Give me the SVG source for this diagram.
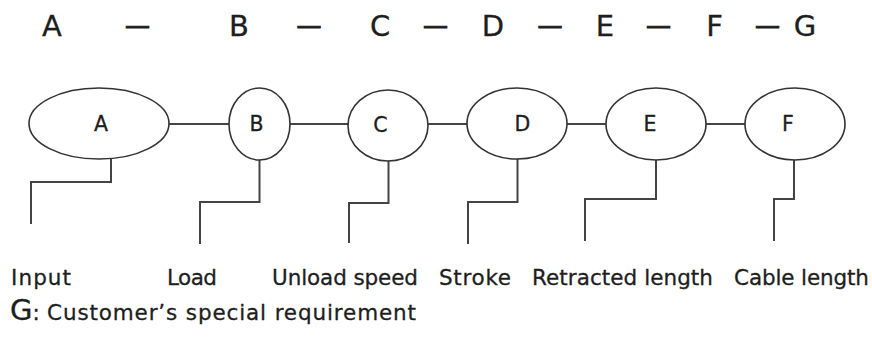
<svg xmlns="http://www.w3.org/2000/svg" width="872" height="345" viewBox="0 0 872 345">
<style>
text{font-family:"DejaVu Sans","Verdana",sans-serif;fill:#1e1e1e;stroke:#1e1e1e;stroke-width:0.3}
.big{font-size:29px;text-anchor:middle}
.dash{font-size:25px;text-anchor:middle;stroke-width:1}
.node ellipse{fill:#fff;stroke:#333;stroke-width:1.6}
.node text{font-size:20.5px;text-anchor:middle}
.conn{fill:none;stroke:#444;stroke-width:2}
.lbl{font-size:21.5px}
</style>
<rect width="872" height="345" fill="#fff"/>
<g id="title">
<text class="big" x="52" y="36">A</text>
<text class="dash" x="137.5" y="34">—</text>
<text class="big" x="239" y="36">B</text>
<text class="dash" x="309" y="34">—</text>
<text class="big" x="380" y="36">C</text>
<text class="dash" x="435.5" y="34">—</text>
<text class="big" x="493" y="36">D</text>
<text class="dash" x="550" y="34">—</text>
<text class="big" x="605" y="36">E</text>
<text class="dash" x="658.5" y="34">—</text>
<text class="big" x="714.5" y="36">F</text>
<text class="dash" x="767.5" y="34">—</text>
<text class="big" x="805" y="36">G</text>
</g>
<g id="connectors">
<path class="conn" d="M169 124H229M290 124H348M428 124H467M567 124H606M706 124H745"/>
<path class="conn" d="M111 159V182H31V224"/>
<path class="conn" d="M259.5 160V202H200V244"/>
<path class="conn" d="M388.5 161V203H349V243"/>
<path class="conn" d="M517.5 159V202H468V244"/>
<path class="conn" d="M656 160V199H585V241"/>
<path class="conn" d="M794 160V199H774V241"/>
</g>
<g id="nodeA" class="node"><ellipse cx="99" cy="123.5" rx="70" ry="35.5"/><text x="101" y="131">A</text></g>
<g id="nodeB" class="node"><ellipse cx="259.5" cy="124" rx="30.5" ry="36"/><text x="256.5" y="131">B</text></g>
<g id="nodeC" class="node"><ellipse cx="388" cy="125.5" rx="40" ry="35.5"/><text x="380.5" y="131.5">C</text></g>
<g id="nodeD" class="node"><ellipse cx="517" cy="123.5" rx="50" ry="35.5"/><text x="522.5" y="131">D</text></g>
<g id="nodeE" class="node"><ellipse cx="656" cy="124" rx="50" ry="36"/><text x="650" y="131">E</text></g>
<g id="nodeF" class="node"><ellipse cx="795" cy="124" rx="50" ry="36"/><text x="788" y="131">F</text></g>
<g id="labels">
<text class="lbl" x="11" y="285" textLength="60" lengthAdjust="spacing">Input</text>
<text class="lbl" x="167" y="285" textLength="50" lengthAdjust="spacing">Load</text>
<text class="lbl" x="272" y="285" textLength="146" lengthAdjust="spacing">Unload speed</text>
<text class="lbl" x="439" y="285" textLength="72" lengthAdjust="spacing">Stroke</text>
<text class="lbl" x="532" y="285" textLength="181" lengthAdjust="spacing">Retracted length</text>
<text class="lbl" x="734" y="285" textLength="135" lengthAdjust="spacing">Cable length</text>
<text x="10" y="320"><tspan style="font-size:29px">G</tspan><tspan style="font-size:21.5px">:</tspan></text>
<text class="lbl" x="47" y="320" textLength="369" lengthAdjust="spacing">Customer’s special requirement</text>
</g>
</svg>
